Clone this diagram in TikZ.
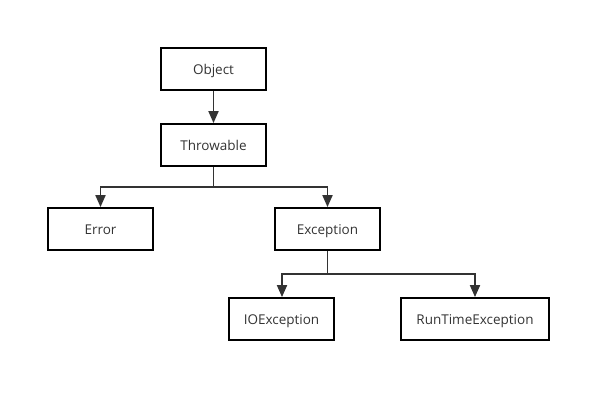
\documentclass[tikz,border=0pt]{standalone}
\usepackage{fontspec}
\setmainfont{Open Sans}
\usetikzlibrary{arrows.meta}
\definecolor{ln}{HTML}{333333}
\tikzset{
  cls/.style={draw=black, line width=1.8pt, minimum width=105pt, minimum height=42pt, inner sep=0pt, text height=11.5pt, text depth=0pt, font=\fontsize{13.5}{16}\selectfont, text=ln},
  conn/.style={draw=ln, line width=1.8pt, -{Triangle[length=12pt,width=10pt]}},
  plain/.style={draw=ln, line width=1.8pt}
}
\begin{document}
\begin{tikzpicture}[x=1pt,y=-1pt]
\useasboundingbox (0,0) rectangle (611,402);
\node[cls] (obj) at (213.5,69) {Object};
\node[cls] (thr) at (213.5,145) {Throwable};
\node[cls] (err) at (100.5,229) {Error};
\node[cls] (exc) at (327.5,229) {Exception};
\node[cls] (io) at (281.5,319) {IOException};
\node[cls, minimum width=148pt] (rt) at (475,319) {RunTimeException};
\coordinate (b1) at (213.5,187);
\coordinate (b2) at (327.5,274);
\draw[conn] (obj) -- (thr);
\draw[plain] (thr.south) -- (b1);
\draw[conn] (b1) -| (err.north);
\draw[conn] (b1) -| (exc.north);
\draw[plain] (exc.south) -- (b2);
\draw[conn] (b2) -| ([xshift=0.5pt]io.north);
\draw[conn] (b2) -| (rt.north);
\end{tikzpicture}
\end{document}
